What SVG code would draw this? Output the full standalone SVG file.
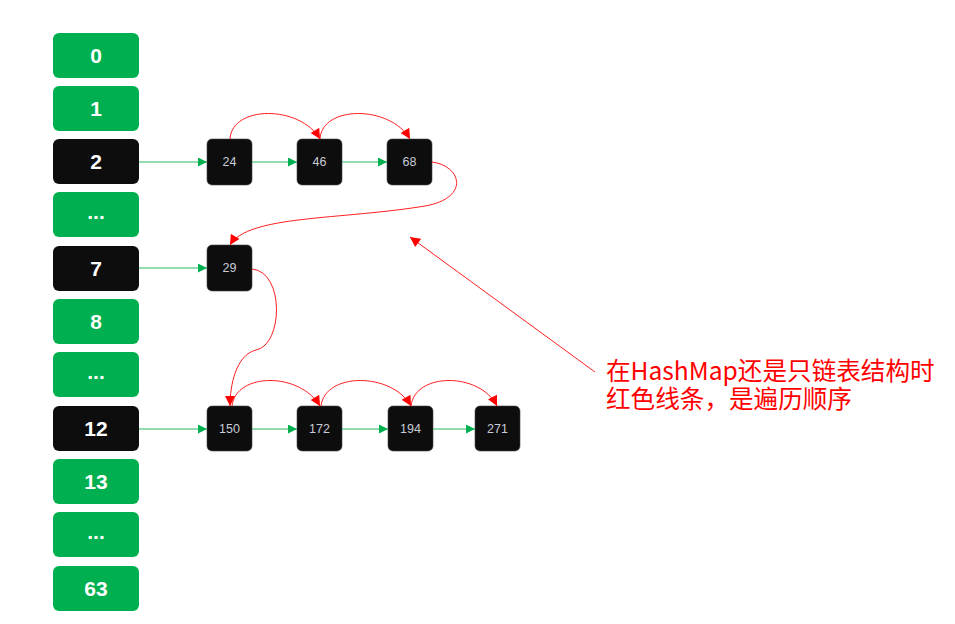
<svg xmlns="http://www.w3.org/2000/svg" width="955" height="624" viewBox="0 0 955 624">
<defs>
<style>
.bk rect{stroke:none}
.g rect{fill:#00b050}
.k rect{fill:#0d0d0d}
.bk text{font-family:"Liberation Sans",Arial,sans-serif;font-size:21px;font-weight:bold;fill:#fff;text-anchor:middle}
.nd rect{fill:#0d0d0d;stroke:#444;stroke-width:0.6}
.nd text{font-family:"Liberation Sans",Arial,sans-serif;font-size:12.5px;fill:#c9ccd6;text-anchor:middle}
.gl{stroke:#29b862;stroke-width:1.2;fill:none;marker-end:url(#ga)}
.rl{stroke:#ff2020;stroke-width:1;fill:none;marker-end:url(#ra)}
.note{font-family:"Noto Sans CJK SC","Noto Sans",sans-serif;font-size:24.6px;fill:#ff0000}
</style>
<marker id="ga" viewBox="0 0 10 10" refX="10" refY="5" markerWidth="10" markerHeight="9" markerUnits="userSpaceOnUse" orient="auto"><path d="M0,0 L10,5 L0,10 Z" fill="#00b050"/></marker>
<marker id="ra" viewBox="0 0 10 10" refX="10" refY="5" markerWidth="11" markerHeight="10" markerUnits="userSpaceOnUse" orient="auto"><path d="M0,0 L10,5 L0,10 Z" fill="#ff0000"/></marker>
</defs>
<rect width="955" height="624" fill="#fff"/>

<g id="bucket-0" class="bk g"><rect x="53" y="33" width="86" height="45" rx="6"/><text x="96" y="63">0</text></g>
<g id="bucket-1" class="bk g"><rect x="53" y="86" width="86" height="45" rx="6"/><text x="96" y="116">1</text></g>
<g id="bucket-2" class="bk k"><rect x="53" y="139" width="86" height="45" rx="6"/><text x="96" y="169">2</text></g>
<g id="bucket-d1" class="bk g"><rect x="53" y="192" width="86" height="45" rx="6"/><text x="96" y="219">...</text></g>
<g id="bucket-7" class="bk k"><rect x="53" y="246" width="86" height="45" rx="6"/><text x="96" y="276">7</text></g>
<g id="bucket-8" class="bk g"><rect x="53" y="299" width="86" height="45" rx="6"/><text x="96" y="329">8</text></g>
<g id="bucket-d2" class="bk g"><rect x="53" y="352" width="86" height="45" rx="6"/><text x="96" y="379">...</text></g>
<g id="bucket-12" class="bk k"><rect x="53" y="406" width="86" height="45" rx="6"/><text x="96" y="436">12</text></g>
<g id="bucket-13" class="bk g"><rect x="53" y="459" width="86" height="45" rx="6"/><text x="96" y="489">13</text></g>
<g id="bucket-d3" class="bk g"><rect x="53" y="512" width="86" height="45" rx="6"/><text x="96" y="539">...</text></g>
<g id="bucket-63" class="bk g"><rect x="53" y="566" width="86" height="45" rx="6"/><text x="96" y="596">63</text></g>

<g id="n24" class="nd"><rect x="207" y="139" width="45" height="46" rx="5"/><text x="229.5" y="166">24</text></g>
<g id="n46" class="nd"><rect x="297" y="139" width="45" height="46" rx="5"/><text x="319.5" y="166">46</text></g>
<g id="n68" class="nd"><rect x="387" y="139" width="45" height="46" rx="5"/><text x="409.5" y="166">68</text></g>
<g id="n29" class="nd"><rect x="207" y="245" width="45" height="46" rx="5"/><text x="229.5" y="272">29</text></g>
<g id="n150" class="nd"><rect x="207" y="406" width="45" height="45" rx="5"/><text x="229.5" y="433">150</text></g>
<g id="n172" class="nd"><rect x="297" y="406" width="45" height="45" rx="5"/><text x="319.5" y="433">172</text></g>
<g id="n194" class="nd"><rect x="388" y="406" width="45" height="45" rx="5"/><text x="410.5" y="433">194</text></g>
<g id="n271" class="nd"><rect x="475" y="406" width="45" height="45" rx="5"/><text x="497.5" y="433">271</text></g>

<g id="connectors">
<path class="gl" d="M139,162 H207"/>
<path class="gl" d="M252,162 H297"/>
<path class="gl" d="M342,162 H387"/>
<path class="gl" d="M139,268 H207"/>
<path class="gl" d="M139,429 H207"/>
<path class="gl" d="M252,429 H297"/>
<path class="gl" d="M342,429 H388"/>
<path class="gl" d="M433,429 H475"/>

<path class="rl" d="M230,139 C232,105 300,105 320,139"/>
<path class="rl" d="M320,139 C322,105 390,105 410,139"/>
<path class="rl" d="M432,162 C462,166 470,198 425,206 C340,220 248,215 230,245"/>
<path class="rl" d="M252,269 C285,272 283,345 256,350 C236,355 230,385 230,406"/>
<path class="rl" d="M232,406 C236,372 300,372 320,406"/>
<path class="rl" d="M321,406 C325,372 392,372 411,406"/>
<path class="rl" d="M411,406 C415,372 480,372 497,406"/>
<path class="rl" d="M595,372 L410,237"/>
</g>

<text class="note" x="606" y="380"><tspan x="606" y="380">在HashMap还是只链表结构时</tspan><tspan x="606" y="408">红色线条，是遍历顺序</tspan></text>
</svg>
